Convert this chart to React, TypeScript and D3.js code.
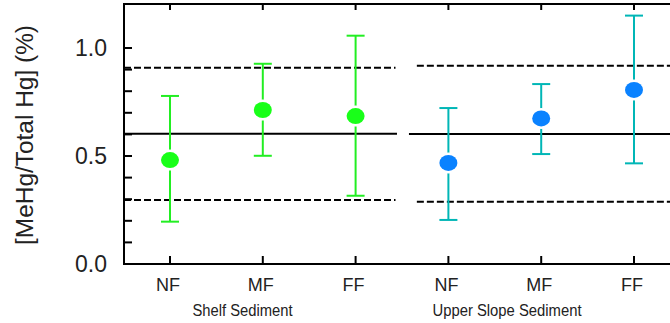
import React from "react";
import * as d3 from "d3";

const categories = ["NF", "MF", "FF", "NF", "MF", "FF"];
const groupNames = ["Shelf Sediment", "Upper Slope Sediment"];
const groupOf = [0, 0, 0, 1, 1, 1];
const means = [0.481, 0.713, 0.685, 0.468, 0.674, 0.806];
const upper = [0.778, 0.927, 1.057, 0.722, 0.833, 1.15];
const lower = [0.196, 0.501, 0.316, 0.204, 0.509, 0.466];
const groupMean = [0.603, 0.602];
const groupHigh = [0.909, 0.918];
const groupLow = [0.296, 0.288];
const yTickLabels = ["0.0", "0.5", "1.0"];
const yMinorTicks = [0.1, 0.2, 0.3, 0.4, 0.6, 0.7, 0.8, 0.9];

const W = 670;
const H = 323;
const markerColor = ["#19ff19", "#0a82ff"];
const barColor = ["#22ee22", "#00b6b6"];

export default function App() {
  const x = d3.scaleLinear().domain([0, 5]).range([170, 634]);
  const y = d3.scaleLinear().domain([0, 1]).range([264, 48]);
  const left = 124;
  const top = 4;
  const bottom = 264;
  const right = 680;
  const font = "Arial, 'Liberation Sans', Helvetica, sans-serif";

  const solidExt = [
    [left, x(2.446)],
    [x(2.575), right],
  ];
  const dashExt = [
    [left, x(2.43)],
    [x(2.66), right],
  ];

  return (
    <svg
      width={W}
      height={H}
      style={{ position: "absolute", left: 0, top: 0, background: "#fff" }}
      fontFamily={font}
    >
      {/* group reference lines */}
      {groupMean.map((m, g) => (
        <g key={"gl" + g}>
          <line x1={solidExt[g][0]} x2={solidExt[g][1]} y1={y(m)} y2={y(m)} stroke="#000" strokeWidth={2} />
          <line x1={dashExt[g][0]} x2={dashExt[g][1]} y1={y(groupHigh[g])} y2={y(groupHigh[g])} stroke="#000" strokeWidth={2} strokeDasharray="7,3" />
          <line x1={dashExt[g][0]} x2={dashExt[g][1]} y1={y(groupLow[g])} y2={y(groupLow[g])} stroke="#000" strokeWidth={2} strokeDasharray="7,3" />
        </g>
      ))}

      {/* error bars and markers */}
      {means.map((m, i) => {
        const g = groupOf[i];
        const cx = x(i);
        return (
          <g key={"p" + i}>
            <line x1={cx} x2={cx} y1={y(upper[i])} y2={y(lower[i])} stroke={barColor[g]} strokeWidth={2} />
            <line x1={cx - 9} x2={cx + 9} y1={y(upper[i])} y2={y(upper[i])} stroke={barColor[g]} strokeWidth={2} />
            <line x1={cx - 9} x2={cx + 9} y1={y(lower[i])} y2={y(lower[i])} stroke={barColor[g]} strokeWidth={2} />
            <ellipse cx={cx} cy={y(m)} rx={11.5} ry={10.5} fill="#fff" />
            <ellipse cx={cx} cy={y(m)} rx={9} ry={8} fill={markerColor[g]} />
          </g>
        );
      })}

      {/* frame */}
      <line x1={left} x2={left} y1={top - 1} y2={bottom + 1} stroke="#000" strokeWidth={2} />
      <line x1={left - 1} x2={right} y1={top} y2={top} stroke="#000" strokeWidth={2} />
      <line x1={left - 1} x2={right} y1={bottom} y2={bottom} stroke="#000" strokeWidth={2} />

      {/* y ticks */}
      {[0, 0.5, 1].concat(yMinorTicks).map((t) => (
        <line key={"yt" + t} x1={left} x2={left + 8} y1={y(t)} y2={y(t)} stroke="#000" strokeWidth={2} />
      ))}
      {yTickLabels.map((s) => (
        <text key={"yl" + s} x={107} y={y(+s)} dy="0.36em" textAnchor="end" fontSize={23} fill="#222">
          {s}
        </text>
      ))}

      {/* x ticks */}
      {categories.map((c, i) => (
        <g key={"xt" + i}>
          <line x1={x(i)} x2={x(i)} y1={bottom} y2={bottom - 8} stroke="#000" strokeWidth={2} />
          <line x1={x(i)} x2={x(i)} y1={top} y2={top + 6} stroke="#000" strokeWidth={2} />
          <text x={x(i) - 2} y={291} textAnchor="middle" fontSize={18} fill="#222">
            {c}
          </text>
        </g>
      ))}
      <text x={242.5} y={316} textAnchor="middle" fontSize={16} fill="#222" textLength={100} lengthAdjust="spacingAndGlyphs">
        {groupNames[0]}
      </text>
      <text x={507} y={316} textAnchor="middle" fontSize={16} fill="#222" textLength={149} lengthAdjust="spacingAndGlyphs">
        {groupNames[1]}
      </text>

      {/* y axis title */}
      <text
        transform={`translate(33,135) rotate(-90)`}
        textAnchor="middle"
        fontSize={23}
        fill="#222"
        textLength={220}
        lengthAdjust="spacingAndGlyphs"
      >
        [MeHg/Total Hg] (%)
      </text>
    </svg>
  );
}
